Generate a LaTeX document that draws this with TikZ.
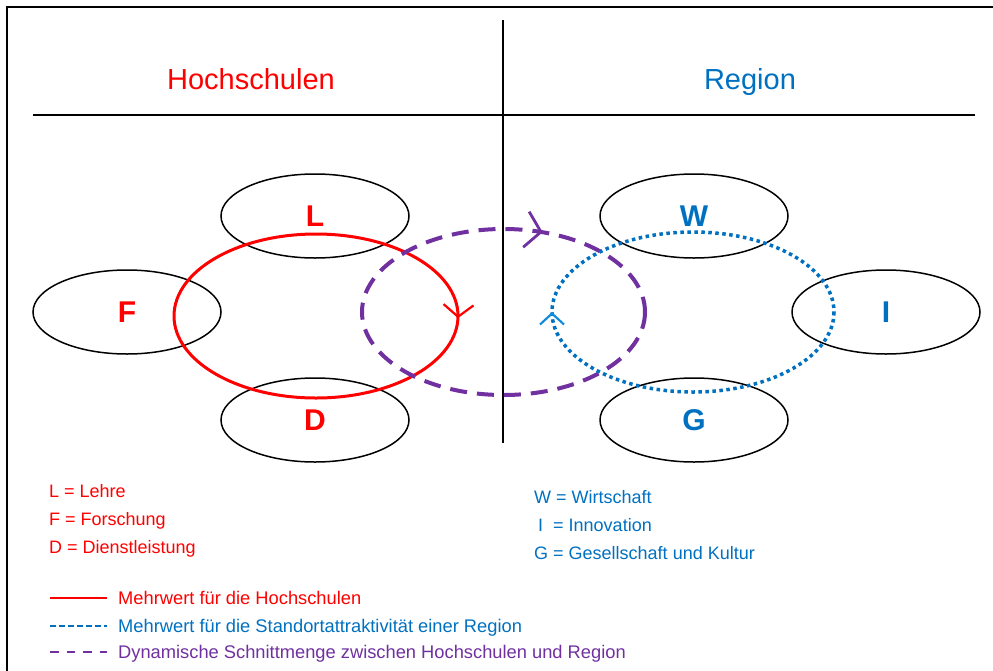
\documentclass[tikz,border=0pt]{standalone}
\usepackage{fontspec}
\setmainfont{Liberation Sans}
\usetikzlibrary{arrows.meta,decorations.markings,shapes.geometric}
\definecolor{hsred}{RGB}{255,0,0}
\definecolor{rgblue}{RGB}{0,112,192}
\definecolor{arrblue}{RGB}{20,140,220}
\definecolor{dynpurple}{RGB}{112,48,160}
\tikzset{
  fieldell/.style={draw=black, line width=1.5pt, ellipse, minimum width=188pt, minimum height=84pt, inner sep=0pt,
    font=\fontsize{30}{34}\selectfont\bfseries},
  titletext/.style={font=\fontsize{29}{34}\selectfont, anchor=base, inner sep=0pt},
  legtext/.style={font=\fontsize{18}{21}\selectfont, anchor=base west, inner sep=0pt},
  legline/.style={font=\fontsize{18.3}{21}\selectfont, anchor=base west, inner sep=0pt},
  redloop/.style={draw=hsred, line width=3pt},
  blueloop/.style={draw=rgblue, line width=3.5pt, dash pattern=on 3.5pt off 3.5pt},
  purpleloop/.style={draw=dynpurple, line width=4pt, dash pattern=on 17pt off 10pt},
}
\begin{document}
\begin{tikzpicture}[x=1pt,y=-1pt]
\useasboundingbox (0,0) rectangle (993,670);
% frame (partly cut by the page)
\coordinate (fbl) at (7,680);
\coordinate (ftl) at (7,6.5);
\coordinate (ftr) at (1000,6.5);
\draw[line width=2pt] (fbl) -- (ftl) -- (ftr);
% separators
\coordinate (hl) at (33,115);
\coordinate (hr) at (975,115);
\coordinate (vt) at (503,20);
\coordinate (vb) at (503,443);
\draw[line width=1.4pt] (hl) -- (hr);
\draw[line width=1.4pt] (vt) -- (vb);
% titles
\node[titletext, text=hsred] (th) at (251,89) {Hochschulen};
\node[titletext, text=rgblue] (tr) at (750,89) {Region};
% field ellipses
\node[fieldell, text=hsred] (L) at (315,216) {L};
\node[fieldell, text=hsred] (F) at (127,312) {F};
\node[fieldell, text=hsred] (D) at (315,420) {D};
\node[fieldell, text=rgblue] (W) at (694,216) {W};
\node[fieldell, text=rgblue] (I) at (886,312) {I};
\node[fieldell, text=rgblue] (G) at (694,420) {G};
% loops
\coordinate (redc) at (316,316);
\coordinate (purc) at (503.5,312);
\coordinate (bluc) at (693,312);
\draw[redloop, postaction={decorate}, decoration={markings,
   mark=at position 0.003 with {\arrow[hsred, solid]{Straight Barb[length=12pt,width=30pt,line width=2.2pt]}}}]
   (redc) ellipse [x radius=142, y radius=82];
\draw[purpleloop, postaction={decorate}, decoration={markings,
   mark=at position 0.805 with {\arrow[dynpurple, solid]{Straight Barb[length=15pt,width=36pt,line width=2.8pt]}}}]
   (purc) ellipse [x radius=141.5, y radius=83];
\draw[blueloop, postaction={decorate}, decoration={markings,
   mark=at position 0.5 with {\arrow[arrblue, solid]{Straight Barb[length=11pt,width=24pt,line width=2.2pt]}}}]
   (bluc) ellipse [x radius=141, y radius=80];
% key of fields
\node[legtext, text=hsred] (kl) at (49,497) {L = Lehre};
\node[legtext, text=hsred] (kf) at (49,525) {F = Forschung};
\node[legtext, text=hsred] (kd) at (49,553) {D = Dienstleistung};
\node[legtext, text=rgblue] (kw) at (534,503) {W = Wirtschaft};
\node[legtext, text=rgblue] (ki) at (538,531) {I\ \ = Innovation};
\node[legtext, text=rgblue] (kg) at (534,559) {G = Gesellschaft und Kultur};
% legend lines
\coordinate (l1a) at (50,598); \coordinate (l1b) at (107,598);
\coordinate (l2a) at (50,626); \coordinate (l2b) at (107,626);
\coordinate (l3a) at (50,652); \coordinate (l3b) at (107,652);
\draw[hsred, line width=2.2pt] (l1a) -- (l1b);
\draw[rgblue, line width=2.2pt, dash pattern=on 5.5pt off 3.5pt] (l2a) -- (l2b);
\draw[dynpurple, line width=2.5pt, dash pattern=on 8.5pt off 8pt] (l3a) -- (l3b);
\node[legline, text=hsred] (m1) at (118,604) {Mehrwert für die Hochschulen};
\node[legline, text=rgblue] (m2) at (118,632) {Mehrwert für die Standortattraktivität einer Region};
\node[legline, text=dynpurple] (m3) at (118,658) {Dynamische Schnittmenge zwischen Hochschulen und Region};
\end{tikzpicture}
\end{document}
